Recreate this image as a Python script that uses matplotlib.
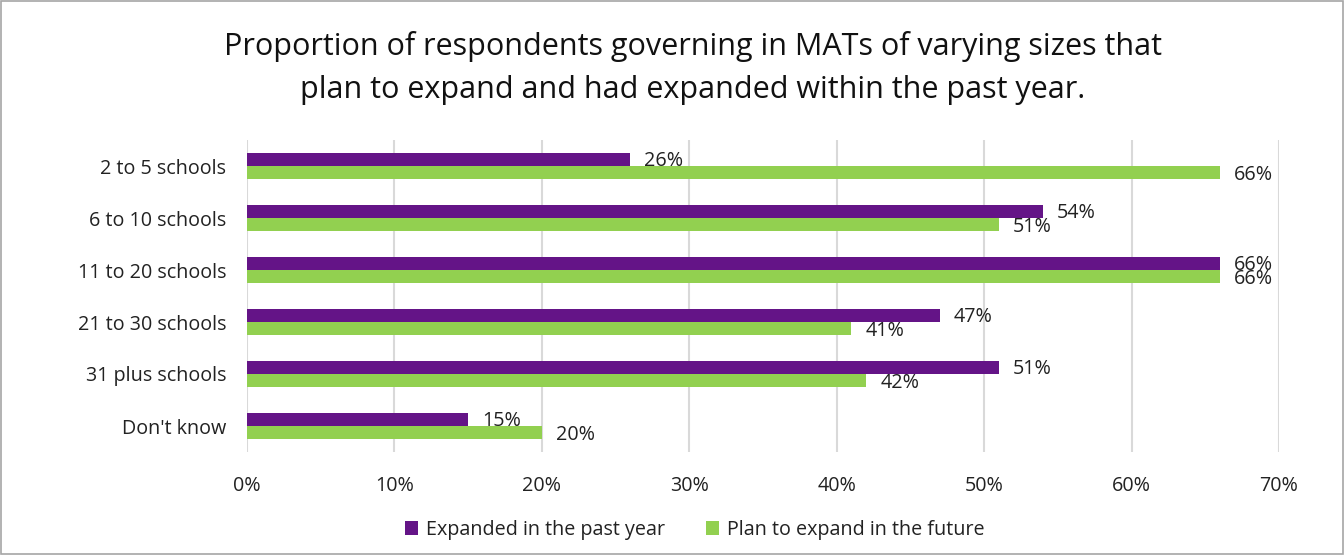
import matplotlib
matplotlib.use("Agg")
import matplotlib.pyplot as plt
import numpy as np
from matplotlib.patches import Rectangle
from matplotlib.ticker import FuncFormatter, MultipleLocator

categories = ["2 to 5 schools", "6 to 10 schools", "11 to 20 schools",
              "21 to 30 schools", "31 plus schools", "Don't know"]
expanded = [26, 54, 66, 47, 51, 15]
plan = [66, 51, 66, 41, 42, 20]
series_names = ["Expanded in the past year", "Plan to expand in the future"]

PURPLE = "#641487"
GREEN = "#92D050"
TEXT = "#222222"
FS = 14.2

plt.rcParams["font.family"] = ["Open Sans", "DejaVu Sans"]

fig = plt.figure(figsize=(13.44, 5.55), dpi=100)
ax = fig.add_axes([247 / 1344, 1 - 452 / 555, (1279 - 247) / 1344, 312 / 555])

y = np.arange(len(categories))
h = 0.25
ax.barh(y - h / 2, expanded, height=h, color=PURPLE, label=series_names[0])
ax.barh(y + h / 2, plan, height=h, color=GREEN, label=series_names[1])

for yi, v in zip(y, expanded):
    ax.text(v + 0.95, yi - h / 2 + 0.02, f"{v}%", va="center", ha="left",
            fontsize=FS, color=TEXT)
for yi, v in zip(y, plan):
    ax.text(v + 0.95, yi + h / 2 + 0.04, f"{v}%", va="center", ha="left",
            fontsize=FS, color=TEXT)

ax.set_xlim(0, 70)
ax.set_ylim(len(categories) - 0.5, -0.5)
ax.set_yticks(y)
ax.set_yticklabels(categories, fontsize=FS, color=TEXT)
ax.xaxis.set_major_locator(MultipleLocator(10))
ax.xaxis.set_major_formatter(FuncFormatter(lambda v, _: f"{v:.0f}%"))
ax.tick_params(axis="x", labelsize=FS, labelcolor=TEXT, length=0, pad=17)
ax.tick_params(axis="y", length=0, pad=15)
ax.grid(axis="x", color="#d9d9d9", linewidth=1.5)
ax.set_axisbelow(True)
for s in ax.spines.values():
    s.set_visible(False)

title_x = 693 / 1344
fig.text(title_x, 1 - 47 / 555, "Proportion of respondents governing in MATs of varying sizes that",
         ha="center", va="center", fontsize=22, color="#111111")
fig.text(title_x, 1 - 90 / 555, "plan to expand and had expanded within the past year.",
         ha="center", va="center", fontsize=22, color="#111111")

fig.legend(loc="center", bbox_to_anchor=(0.517, 1 - 530 / 555), ncol=2, frameon=False,
           fontsize=FS, handlelength=0.65, handleheight=0.65, handletextpad=0.4,
           columnspacing=2.1, labelcolor=TEXT)

fig.patches.append(Rectangle((0.001, 0.001), 0.998, 0.997, transform=fig.transFigure,
                             fill=False, edgecolor="#a6a6a6", linewidth=1.2))

fig.savefig("out.png", dpi=100)
